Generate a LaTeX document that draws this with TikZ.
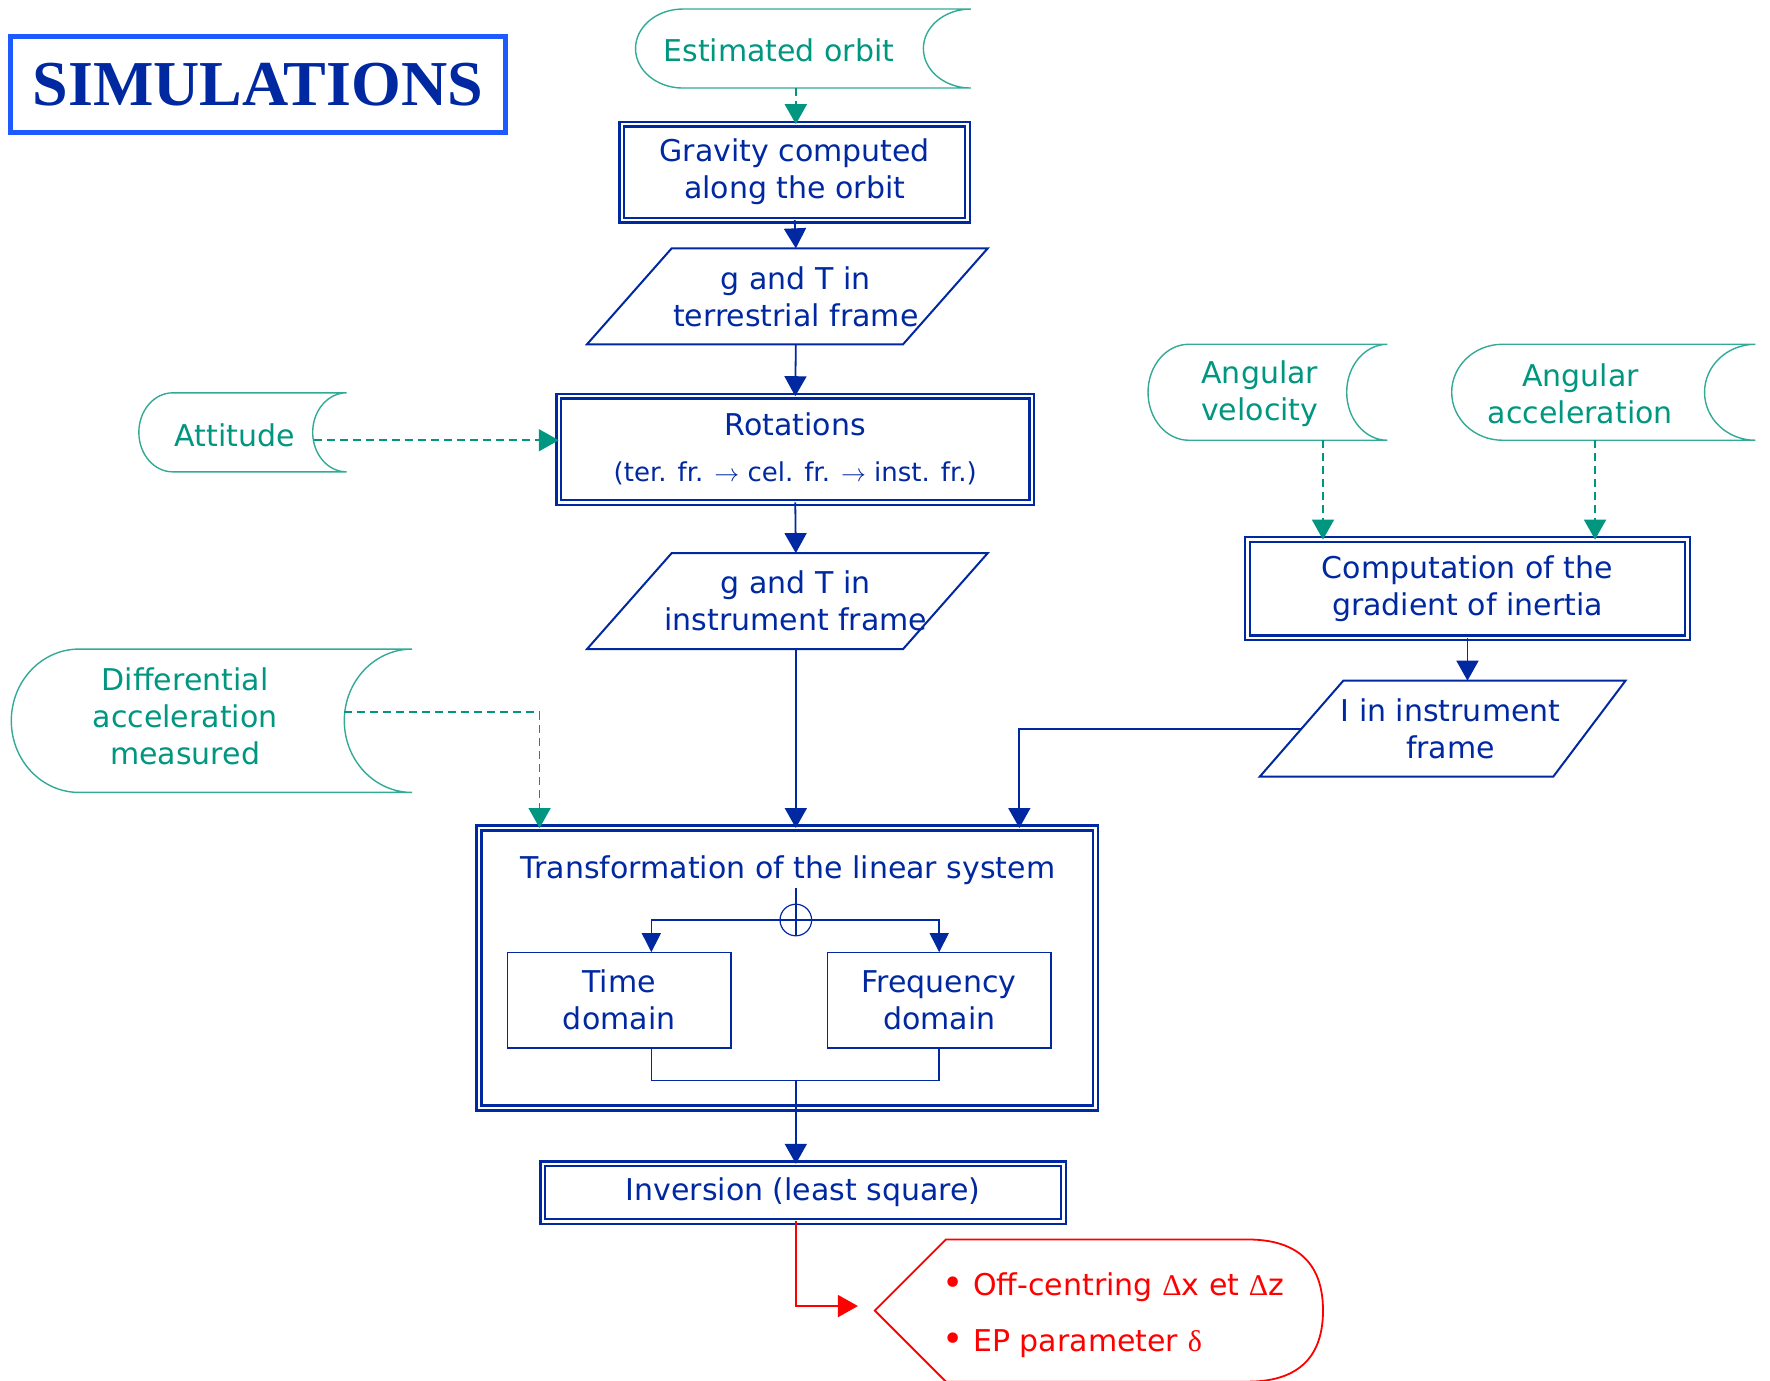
\documentclass[tikz,border=0pt]{standalone}
\usepackage{fontspec}
\setmainfont{DejaVu Sans}
\newfontfamily\titlefont{Liberation Serif}
\newfontfamily\grk{Liberation Serif}
\usetikzlibrary{arrows.meta,calc}
\definecolor{dblue}{RGB}{0,40,160}
\definecolor{lblue}{RGB}{30,90,255}
\definecolor{tealt}{RGB}{0,150,128}
\definecolor{teall}{RGB}{50,170,150}
\definecolor{rred}{RGB}{255,0,0}
\def\ux{1.1288pt}
\newcommand\tape[5]{\draw[tapeline] ({#1+#5},#3) -- (#2,#3)
  arc[start angle=90,end angle=270,x radius={#5*\ux},y radius={(#4-#3)/2*\ux}]
  -- ({#1+#5},#4)
  arc[start angle=270,end angle=90,x radius={#5*\ux},y radius={(#4-#3)/2*\ux}]
  -- cycle;}
\begin{document}
\begin{tikzpicture}[x=1.1288pt,y=-1.1288pt,
  every node/.style={inner sep=0pt, outer sep=0pt},
  txt/.style={font=\fontsize{30}{37}\selectfont, align=center, text=dblue},
  ttxt/.style={font=\fontsize{30}{37}\selectfont, align=center, text=tealt},
  dbox/.style={draw=dblue, line width=2.3pt, double=white, double distance=2.4pt, txt},
  sbox/.style={draw=dblue, line width=1.3pt, txt},
  para/.style={draw=dblue, line width=2pt, line join=miter},
  tapeline/.style={draw=teall, line width=1.4pt},
  arr/.style={draw=dblue, line width=1.8pt, -{Triangle[length=20pt,width=22pt]}},
  sarr/.style={draw=dblue, line width=1.4pt, -{Triangle[length=19pt,width=19pt]}},
  thinl/.style={draw=dblue, line width=1.4pt},
  tarr/.style={draw=tealt, line width=1.8pt, dash pattern=on 8pt off 5pt, -{Triangle[length=20pt,width=22pt]}},
  rarr/.style={draw=rred, line width=1.8pt, -{Triangle[length=20pt,width=22pt]}},
  rtxt/.style={font=\fontsize{30}{56}\selectfont, align=left, text=rred},
]
\useasboundingbox (0,0) rectangle (1568,1223);
\clip (0,0) rectangle (1568,1223);

% title
\node[draw=lblue, line width=5pt, minimum width=438*\ux, minimum height=85*\ux,
  font=\titlefont\bfseries\fontsize{64}{64}\selectfont, text=dblue] (title) at (228.5,75) {SIMULATIONS};

% estimated orbit
\tape{563}{860}{8}{78}{42}
\node[ttxt] (orbit) at (690,45) {Estimated orbit};
\coordinate (orbout) at (705,78);

% gravity
\node[dbox, minimum width=306*\ux, minimum height=85*\ux] (grav) at (704,152.5) {Gravity computed\\along the orbit};

% p1
\draw[para] (595,220) -- (875,220) -- (800,305) -- (520,305) -- cycle;
\node[txt, minimum height=85*\ux] (p1) at (705,262.5) {g and T in\\terrestrial frame};

% rotations
\node[dbox, minimum width=419*\ux, minimum height=94*\ux] (rot) at (704.5,398)
  {Rotations\\[9pt]{\fontsize{26}{28}\selectfont (ter. fr. $\to$ cel. fr. $\to$ inst. fr.)}};

% attitude
\tape{123}{307}{348}{418}{30}
\node[ttxt] (att) at (208,386) {Attitude};
\coordinate (attout) at (278,390);

% p2
\draw[para] (595,490) -- (875,490) -- (800,575) -- (520,575) -- cycle;
\node[txt, minimum height=85*\ux] (p2) at (705,532.5) {g and T in\\instrument frame};

% angular velocity / acceleration
\tape{1017}{1229}{305}{390}{36}
\node[ttxt] (angv) at (1116,348.5) {Angular\\velocity};
\coordinate (vout) at (1172,390);
\tape{1286}{1555}{305}{390}{45}
\node[ttxt] (anga) at (1400,348.5) {Angular\\acceleration};
\coordinate (aout) at (1413,390);

% computation
\node[dbox, minimum width=390*\ux, minimum height=87*\ux] (comp) at (1300,521.5) {Computation of the\\gradient of inertia};

% p3
\draw[para] (1190,603) -- (1440,603) -- (1376,688) -- (1116,688) -- cycle;
\node[txt, minimum height=85*\ux] (p3) at (1285,645.5) {I in instrument\\frame};
\coordinate (p3in) at (1153,646);

% differential
\tape{10}{365}{575}{702}{60}
\node[ttxt] (diff) at (164,635) {Differential\\acceleration\\measured};
\coordinate (dout) at (305,631);

% transformation
\node[draw=dblue, line width=2.4pt, double=white, double distance=2.6pt, minimum width=546*\ux, minimum height=248*\ux] (trans) at (697.5,857.5) {};
\node[txt] (transtitle) at (698,771) {Transformation of the linear system};
\node[draw=dblue, line width=1.2pt, circle, minimum size=28*\ux] (split) at (705,815) {};
\node[sbox, minimum width=198*\ux, minimum height=85*\ux] (time) at (548.5,886) {Time\\domain};
\node[sbox, minimum width=198*\ux, minimum height=85*\ux] (freq) at (832,886) {Frequency\\domain};
\coordinate (tin) at ([xshift=28.5*\ux]time.north);
\coordinate (tout) at ([xshift=28.5*\ux]time.south);
\coordinate (merge) at (705,957);

% inversion
\node[dbox, minimum width=461*\ux, minimum height=51*\ux] (inv) at (711.5,1056.5) {Inversion (least square)};

% result
\draw[rred, line width=1.8pt, line join=miter] (775,1161) -- (838,1098) -- (1105,1098)
  .. controls (1158,1098) and (1172,1128) .. (1172,1161)
  .. controls (1172,1194) and (1158,1224) .. (1105,1224) -- (838,1224) -- cycle;
\node[rtxt, anchor=west] (res) at (835,1165) {{\fontsize{36}{36}\selectfont •} Off-centring {\grk Δ}x et {\grk Δ}z\\{\fontsize{36}{36}\selectfont •} EP parameter {\grk δ}};
\coordinate (outtip) at (760,1157);

% connectors
\draw[tarr] (orbout) -- (orbout |- grav.north);
\draw[arr] (grav.south) -- (p1.north);
\draw[arr] (p1.south) -- (rot.north);
\draw[tarr] (attout) -- (attout -| rot.west);
\draw[arr] (rot.south) -- (p2.north);
\draw[arr] (p2.south) -- (p2.south |- trans.north);
\draw[tarr] (vout) -- (vout |- comp.north);
\draw[tarr] (aout) -- (aout |- comp.north);
\draw[arr] (comp.south) -- (comp.south |- p3.north);
\draw[arr] (p3in) -| ([xshift=205.5*\ux]trans.north);
\draw[tarr] (dout) -| ([xshift=-219.5*\ux]trans.north);
\draw[thinl] ([yshift=14*\ux]split.north) -- (split.south);
\draw[sarr] (split.center) -| (tin);
\draw[sarr] (split.center) -| (freq.north);
\draw[thinl] (tout) |- (merge) -| (freq.south);
\draw[arr] (merge) -- (merge |- inv.north);
\draw[rarr] (inv.south -| merge) |- (outtip);
\end{tikzpicture}
\end{document}
